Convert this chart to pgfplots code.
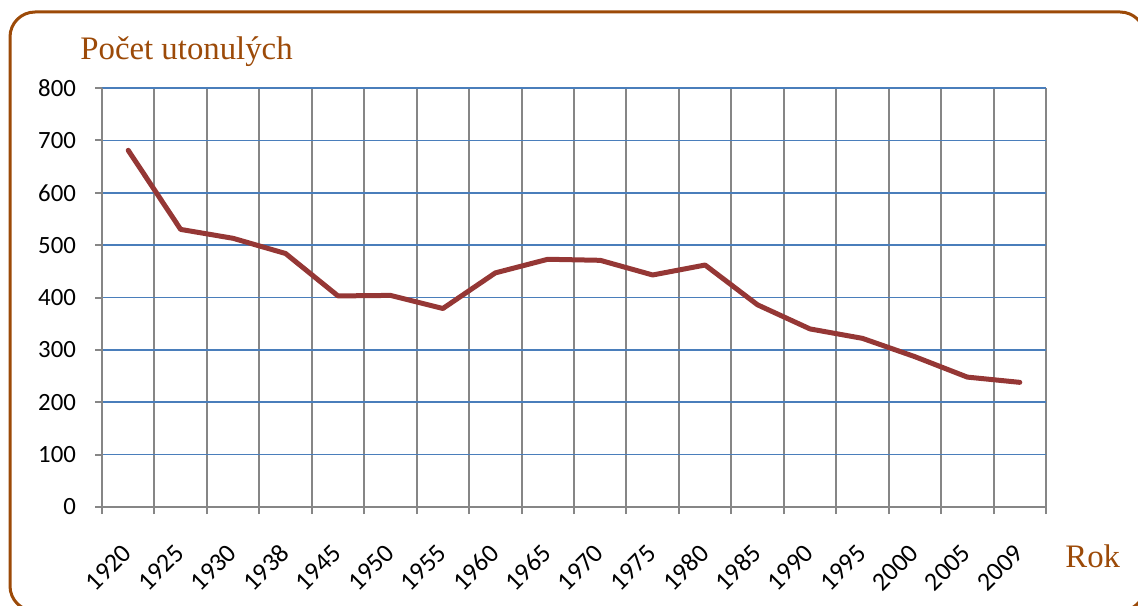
\documentclass[border=0pt]{standalone}
\usepackage{fontspec}
\setmainfont{Carlito}
\newfontfamily\serifb{Liberation Serif}
\usepackage{pgfplots}
\pgfplotsset{compat=1.18}
\definecolor{framebrown}{HTML}{9C4A08}
\definecolor{gridblue}{HTML}{4A7EBB}
\definecolor{gridgray}{HTML}{868686}
\definecolor{linered}{HTML}{953735}
\begin{document}
\begin{tikzpicture}
\path[use as bounding box] (0pt,0pt) rectangle (569pt,302.5pt);
\draw[framebrown, line width=1.5pt, rounded corners=12.5pt] (5pt,-3pt) rectangle (572.5pt,296.5pt);
\begin{axis}[
  at={(51pt,49pt)}, anchor=south west,
  scale only axis, width=472pt, height=209.5pt,
  xmin=-0.5, xmax=17.5, ymin=0, ymax=800,
  xtick={0,...,17},
  xticklabels={1920,1925,1930,1938,1945,1950,1955,1960,1965,1970,1975,1980,1985,1990,1995,2000,2005,2009},
  minor xtick={-0.5,0.5,...,17.5},
  ytick={0,100,...,800},
  xminorgrids, ymajorgrids,
  minor x grid style={gridgray, line width=1pt},
  y grid style={gridblue, line width=0.8pt},
  axis x line*=bottom, axis y line*=left,
  axis line style={-, gridgray, line width=1pt},
  tick align=outside, tick pos=left,
  x tick style={draw=none},
  minor x tick style={draw=gridgray, line width=1pt},
  minor tick length=3.5pt,
  y tick style={draw=gridgray, line width=1pt},
  major tick length=3.5pt,
  /pgf/number format/assume math mode=true,
  ticklabel style={font=\fontsize{12.4}{14}\selectfont},
  xticklabel style={yshift=-15pt, xshift=2pt, rotate=45, anchor=east, font=\fontsize{13}{14}\selectfont},
  yticklabel style={xshift=-6pt},
  clip=false,
]
\addplot[linered, line width=2.5pt, line join=round, line cap=round] coordinates {
(0,681) (1,530) (2,513) (3,484) (4,403) (5,404) (6,379) (7,447) (8,473)
(9,471) (10,443) (11,462) (12,386) (13,340) (14,322) (15,287) (16,248) (17,238)
};
\end{axis}
\node[anchor=base west, text=framebrown, font=\serifb\fontsize{16.4}{18}\selectfont, inner sep=0pt] at (40pt,272.5pt) {Počet utonulých};
\node[anchor=base west, text=framebrown, font=\serifb\fontsize{16.4}{18}\selectfont, inner sep=0pt] at (532.5pt,19pt) {Rok};
\end{tikzpicture}
\end{document}
